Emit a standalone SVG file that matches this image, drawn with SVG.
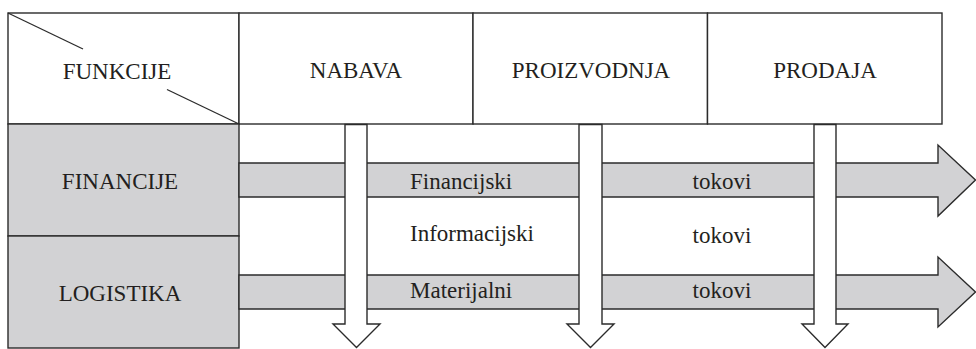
<svg xmlns="http://www.w3.org/2000/svg" width="976" height="349" viewBox="0 0 976 349">
<style>
  .cell { fill: #ffffff; stroke: #2b2b2b; stroke-width: 1.4; }
  .gcell { fill: #d2d2d4; stroke: #2b2b2b; stroke-width: 1.4; }
  .band { fill: #d2d2d4; stroke: #2b2b2b; stroke-width: 1.4; stroke-linejoin: miter; }
  .varrow { fill: #ffffff; stroke: #2b2b2b; stroke-width: 1.4; stroke-linejoin: miter; }
  .diag { stroke: #2b2b2b; stroke-width: 1.3; fill: none; }
  .t { font-family: 'Liberation Serif', 'Times New Roman', serif; font-size: 23px; fill: #231f20; }
  .c { text-anchor: middle; }
</style>
<rect width="976" height="349" fill="#ffffff"/>

<g id="funkcije">
  <rect class="cell" x="8" y="13" width="231" height="111"/>
  <line class="diag" x1="8" y1="13" x2="83" y2="49"/>
  <line class="diag" x1="167" y1="89.5" x2="239" y2="124"/>
  <text class="t c" x="117" y="79">FUNKCIJE</text>
</g>
<g id="nabava">
  <rect class="cell" x="239" y="13" width="234" height="111"/>
  <text class="t c" x="356" y="78">NABAVA</text>
</g>
<g id="proizvodnja">
  <rect class="cell" x="473" y="13" width="234.5" height="111"/>
  <text class="t c" x="591" y="78">PROIZVODNJA</text>
</g>
<g id="prodaja">
  <rect class="cell" x="707.5" y="13" width="234.5" height="111"/>
  <text class="t c" x="825" y="78">PRODAJA</text>
</g>
<g id="financije">
  <rect class="gcell" x="8" y="124" width="231" height="112"/>
  <text class="t c" x="120" y="189">FINANCIJE</text>
</g>
<g id="logistika">
  <rect class="gcell" x="8" y="236" width="231" height="112"/>
  <text class="t c" x="120" y="301">LOGISTIKA</text>
</g>

<g id="connectors">
  <path class="band" d="M239,163 L938,163 L938,145 L975.5,180 L938,216 L938,197 L239,197 Z"/>
  <path class="band" d="M239,275 L938,275 L938,257 L975.5,292 L938,327 L938,309 L239,309 Z"/>
  <path class="varrow" d="M345,124.5 L367,124.5 L367,324 L380,324 L356.5,347.5 L333,324 L345,324 Z"/>
  <path class="varrow" d="M579,124.5 L602,124.5 L602,324 L614,324 L590.5,347.5 L567,324 L579,324 Z"/>
  <path class="varrow" d="M814,124.5 L836,124.5 L836,324 L848,324 L825,347.5 L802,324 L814,324 Z"/>
  <text class="t" x="410" y="188.5">Financijski</text>
  <text class="t c" x="722" y="188.5">tokovi</text>
  <text class="t" x="410" y="241">Informacijski</text>
  <text class="t c" x="722" y="243">tokovi</text>
  <text class="t" x="410" y="298">Materijalni</text>
  <text class="t c" x="722" y="298">tokovi</text>
</g>
</svg>
